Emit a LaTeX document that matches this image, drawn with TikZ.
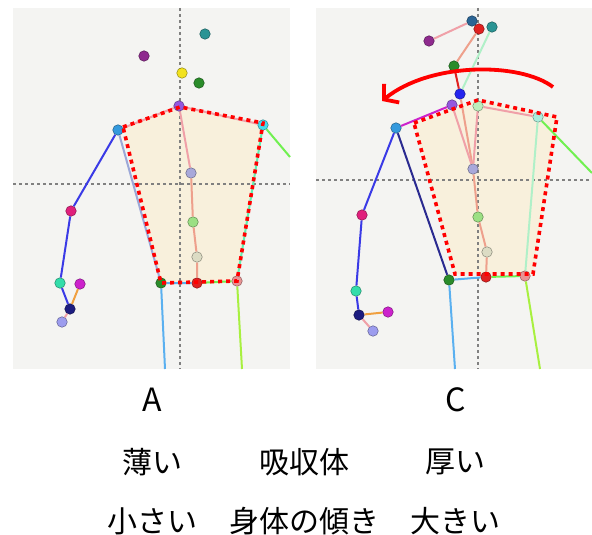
\documentclass[tikz,border=0pt]{standalone}
\usepackage{fontspec}
\setmainfont{Noto Sans CJK JP}
\usetikzlibrary{arrows.meta}

\definecolor{panelbg}{HTML}{F4F4F2}
\definecolor{torsofill}{HTML}{F8F0DC}
\definecolor{jTeal}{HTML}{2A9494}
\definecolor{jPurple}{HTML}{8E2A8E}
\definecolor{jYellow}{HTML}{F2E21E}
\definecolor{jGreen}{HTML}{2A8C2A}
\definecolor{jViolet}{HTML}{9458E0}
\definecolor{jSky}{HTML}{3399DD}
\definecolor{jCyan}{HTML}{44DDEE}
\definecolor{jLav}{HTML}{A8A8DA}
\definecolor{jLime}{HTML}{9CE084}
\definecolor{jPale}{HTML}{DCDCC4}
\definecolor{jRed}{HTML}{E02020}
\definecolor{jPink}{HTML}{E89494}
\definecolor{jRose}{HTML}{E0207C}
\definecolor{jAqua}{HTML}{33DDAA}
\definecolor{jMag}{HTML}{CC22CC}
\definecolor{jNavy}{HTML}{1C1C80}
\definecolor{jPeri}{HTML}{9C9CEE}
\definecolor{jSteel}{HTML}{2A6494}
\definecolor{jBlue}{HTML}{2424EE}
\definecolor{jMint}{HTML}{BCEEBC}
\definecolor{jIce}{HTML}{AAEEDD}
\definecolor{bPink}{HTML}{F0A0A8}
\definecolor{bSalmon}{HTML}{EEA08C}
\definecolor{bBlue}{HTML}{3A3AE6}
\definecolor{bOrange}{HTML}{F0A040}
\definecolor{bSky}{HTML}{5AB0F0}
\definecolor{bGreen}{HTML}{70F050}
\definecolor{bLeg}{HTML}{A8F040}
\definecolor{bAqua}{HTML}{60F0B0}
\definecolor{bMint}{HTML}{B0F0C8}
\definecolor{bSlate}{HTML}{9CA8D8}
\definecolor{bNavy}{HTML}{2A2A90}

\begin{document}
\begin{tikzpicture}[x=1pt, y=-1pt,
    joint/.style={circle, inner sep=0pt, minimum size=10.5pt, fill=#1, draw=#1!60!black, line width=0.5pt},
    bone/.style={draw=#1, line width=2pt},
    guideline/.style={draw=gray, line width=1.1pt, dash pattern=on 3pt off 3pt},
    torso/.style={draw=red, line width=3.6pt, dash pattern=on 4pt off 4pt},
    lbl/.style={inner sep=0pt, font=\fontsize{30}{36}\selectfont},
    letter/.style={inner sep=0pt, font=\fontsize{32}{38}\selectfont}]
  \useasboundingbox (0,0) rectangle (592,535);

  % ---- panel A ----
  \fill[panelbg] (13,8) rectangle (290,369);
  \fill[torsofill] (123,127) -- (180,107) -- (263,123) -- (237,281) -- (161,283) -- cycle;
  \draw[guideline] (180,8) -- (180,369) (13,184) -- (290,184);

  \node[joint=jTeal]   (aEarR)  at (205,34)  {};
  \node[joint=jPurple] (aEarL)  at (144,56)  {};
  \node[joint=jYellow] (aNose)  at (182,73)  {};
  \node[joint=jGreen]  (aEye)   at (199,83)  {};
  \node[joint=jViolet] (aNeck)  at (179,106) {};
  \node[joint=jSky]    (aShL)   at (118,130) {};
  \node[joint=jCyan]   (aShR)   at (263,125) {};
  \node[joint=jLav]    (aSp1)   at (191,173) {};
  \node[joint=jLime]   (aSp2)   at (193,222) {};
  \node[joint=jPale]   (aSp3)   at (197,257) {};
  \node[joint=jRed]    (aHipC)  at (197,283) {};
  \node[joint=jGreen]  (aHipL)  at (161,283) {};
  \node[joint=jPink]   (aHipR)  at (237,281) {};
  \node[joint=jRose]   (aElb)   at (71,211)  {};
  \node[joint=jAqua]   (aWri)   at (60,283)  {};
  \node[joint=jMag]    (aThumb) at (80,284)  {};
  \node[joint=jNavy]   (aHand)  at (70,309)  {};
  \node[joint=jPeri]   (aTip)   at (62,322)  {};
  \coordinate (aArmR)  at (290,157);
  \coordinate (aFootL) at (165,369);
  \coordinate (aFootR) at (242,369);

  \draw[bone=bPink] (aNeck) -- (aShL) (aNeck) -- (aShR) (aNeck) -- (aSp1);
  \draw[bone=bSalmon] (aSp1) -- (aSp2) -- (aSp3) -- (aHipC);
  \draw[bone=bBlue] (aShL) -- (aElb) -- (aWri) -- (aHand);
  \draw[bone=bOrange] (aHand) -- (aThumb);
  \draw[bone=bPink] (aHand) -- (aTip);
  \draw[bone=bSlate] (aShL) -- (aHipL);
  \draw[bone=bAqua] (aShR) -- (aHipR);
  \draw[bone=bGreen] (aShR) -- (aArmR);
  \draw[bone=bSky] (aHipL) -- (aHipC) (aHipL) -- (aFootL);
  \draw[bone=bGreen] (aHipC) -- (aHipR);
  \draw[bone=bLeg] (aHipR) -- (aFootR);

  \draw[torso] (123,127) -- (180,107) -- (263,123) -- (237,281) -- (161,283) -- cycle;

  % ---- panel C ----
  \fill[panelbg] (316,8) rectangle (592,369);
  \fill[torsofill] (414,123) -- (478,100) -- (557,117) -- (533,274) -- (455,274) -- cycle;
  \draw[guideline] (478,8) -- (478,369) (316,180) -- (592,180);

  \node[joint=jSteel]  (cEarL)  at (472,21)  {};
  \node[joint=jRed]    (cNose)  at (479,29)  {};
  \node[joint=jTeal]   (cEarR)  at (492,27)  {};
  \node[joint=jPurple] (cEye)   at (429,41)  {};
  \node[joint=jGreen]  (cHead)  at (454,66)  {};
  \node[joint=jBlue]   (cNeck)  at (460,94)  {};
  \node[joint=jViolet] (cClvL)  at (452,105) {};
  \node[joint=jMint]   (cClvR)  at (478,106) {};
  \node[joint=jIce]    (cShR)   at (538,117) {};
  \node[joint=jSky]    (cShL)   at (396,128) {};
  \node[joint=jLav]    (cSp1)   at (473,169) {};
  \node[joint=jLime]   (cSp2)   at (478,217) {};
  \node[joint=jPale]   (cSp3)   at (487,252) {};
  \node[joint=jRed]    (cHipC)  at (486,277) {};
  \node[joint=jGreen]  (cHipL)  at (449,280) {};
  \node[joint=jPink]   (cHipR)  at (525,276) {};
  \node[joint=jRose]   (cElb)   at (362,215) {};
  \node[joint=jAqua]   (cWri)   at (356,291) {};
  \node[joint=jNavy]   (cHand)  at (359,315) {};
  \node[joint=jMag]    (cThumb) at (388,312) {};
  \node[joint=jPeri]   (cTip)   at (373,331) {};
  \coordinate (cArmR)  at (592,173);
  \coordinate (cFootL) at (455,369);
  \coordinate (cFootR) at (540,369);

  \draw[bone=bPink] (cEye) -- (cEarL);
  \draw[bone=bSalmon] (cNose) -- (cHead);
  \draw[bone=jRed] (cHead) -- (cNeck);
  \draw[bone=bMint] (cEarR) -- (cNeck);
  \draw[bone=bSalmon] (cNeck) -- (cSp1);
  \draw[bone=bPink] (cClvL) -- (cSp1) (cClvR) -- (cSp1) (cClvR) -- (cShR);
  \draw[bone=jMag] (cClvL) -- (cShL);
  \draw[bone=bSalmon] (cSp1) -- (cSp2) -- (cSp3) -- (cHipC);
  \draw[bone=bBlue] (cShL) -- (cElb) -- (cWri) -- (cHand);
  \draw[bone=bOrange] (cHand) -- (cThumb);
  \draw[bone=bPink] (cHand) -- (cTip);
  \draw[bone=bNavy] (cShL) -- (cHipL);
  \draw[bone=bMint] (cShR) -- (cHipR);
  \draw[bone=bGreen] (cShR) -- (cArmR);
  \draw[bone=bSky] (cHipL) -- (cHipC) (cHipL) -- (cFootL);
  \draw[bone=bGreen] (cHipC) -- (cHipR);
  \draw[bone=bLeg] (cHipR) -- (cFootR);

  \draw[torso] (414,123) -- (478,100) -- (557,117) -- (533,274) -- (455,274) -- cycle;

  % lean of the upper body
  \coordinate (tiltS) at (553,87);
  \coordinate (tiltE) at (382,101);
  \draw[red, line width=3.8pt, -{Straight Barb[length=10pt,width=24pt]}]
    (tiltS) .. controls (520,62) and (430,62) .. (tiltE);

  % ---- labels ----
  \node[letter] (labA) at (152,400) {A};
  \node[letter] (labC) at (456,400) {C};
  \node[lbl] (thin)  at (152,462) {薄い};
  \node[lbl] (absorb) at (304,462) {吸収体};
  \node[lbl] (thick) at (455,462) {厚い};
  \node[lbl] (small) at (152,521) {小さい};
  \node[lbl] (tilt)  at (304,521) {身体の傾き};
  \node[lbl] (large) at (455,521) {大きい};
\end{tikzpicture}
\end{document}
